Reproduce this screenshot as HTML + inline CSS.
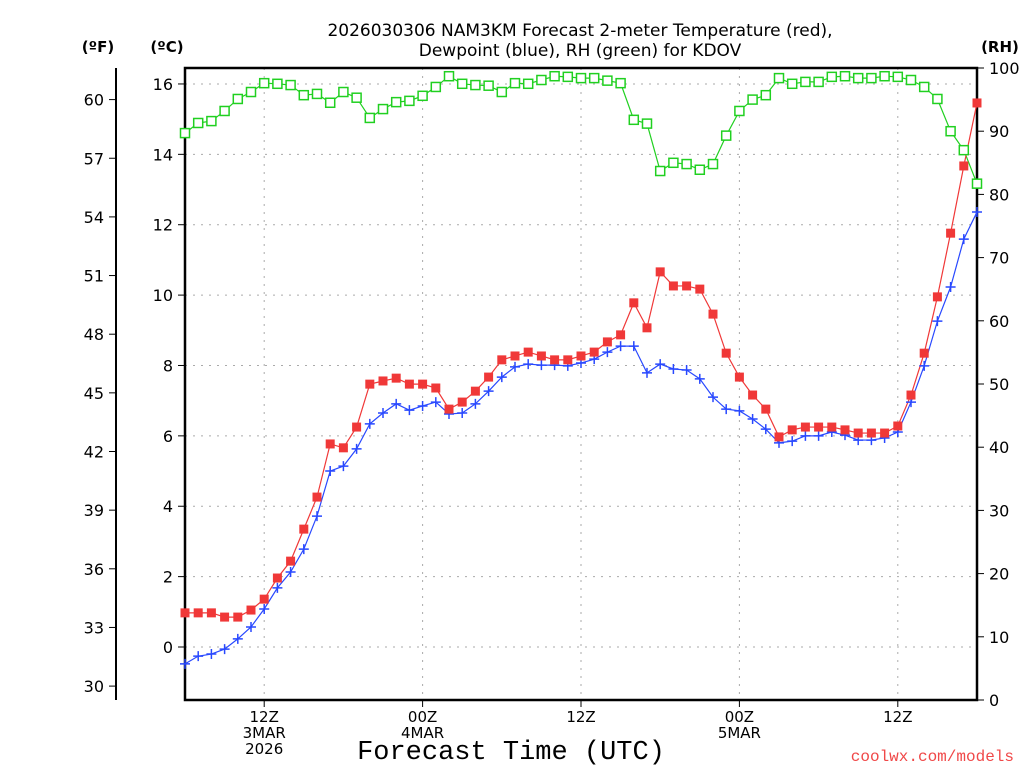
<!DOCTYPE html>
<html><head><meta charset="utf-8"><style>
html,body{margin:0;padding:0;background:#fff}
svg{display:block;font-family:"DejaVu Sans","Liberation Sans",sans-serif}
</style></head><body>
<svg id="chart" width="1024" height="768" viewBox="0 0 1024 768" xmlns="http://www.w3.org/2000/svg">
<text x="580" y="36" text-anchor="middle" font-size="17" fill="#000">2026030306 NAM3KM Forecast 2-meter Temperature (red),</text>
<text x="580" y="56" text-anchor="middle" font-size="17" fill="#000">Dewpoint (blue), RH (green) for KDOV</text>
<text x="98" y="52" text-anchor="middle" font-size="15" font-weight="bold" fill="#000">(ºF)</text>
<text x="167" y="52" text-anchor="middle" font-size="15" font-weight="bold" fill="#000">(ºC)</text>
<text x="1000" y="52" text-anchor="middle" font-size="15" font-weight="bold" fill="#000">(RH)</text>
<text x="511" y="759" text-anchor="middle" font-size="27" fill="#000" font-family="Liberation Mono, monospace">Forecast Time (UTC)</text>
<text x="1014" y="761" text-anchor="end" font-size="16" fill="#f04848" font-family="Liberation Mono, monospace">coolwx.com/models</text>
<g id="grid"></g><g id="axes"></g><g id="series"></g>
</svg>
<script>
const hours=[];for(let i=0;i<=60;i++)hours.push(i); // hours after 06Z 3 Mar
const tempC=[0.97,0.97,0.97,0.85,0.85,1.05,1.36,1.96,2.44,3.35,4.26,5.77,5.66,6.25,7.47,7.56,7.64,7.47,7.47,7.36,6.76,6.96,7.27,7.67,8.16,8.27,8.38,8.27,8.16,8.16,8.27,8.38,8.67,8.87,9.78,9.07,10.66,10.26,10.26,10.17,9.46,8.35,7.67,7.16,6.76,5.97,6.17,6.25,6.25,6.25,6.17,6.08,6.08,6.08,6.28,7.16,8.35,9.95,11.76,13.67,15.46];
const dewC=[-0.48,-0.26,-0.20,-0.06,0.23,0.57,1.08,1.68,2.13,2.78,3.72,5.00,5.14,5.63,6.34,6.65,6.91,6.73,6.85,6.96,6.62,6.65,6.91,7.27,7.67,7.96,8.04,8.01,8.01,7.99,8.07,8.18,8.38,8.55,8.55,7.79,8.04,7.90,7.87,7.62,7.10,6.76,6.71,6.48,6.19,5.80,5.85,6.00,6.00,6.11,6.02,5.88,5.88,5.94,6.11,6.96,7.99,9.26,10.23,11.59,12.36];
const rh=[89.7,91.3,91.6,93.2,95.1,96.2,97.6,97.5,97.3,95.7,95.9,94.5,96.2,95.3,92.1,93.5,94.6,94.8,95.6,97.0,98.7,97.5,97.3,97.2,96.2,97.6,97.5,98.1,98.7,98.6,98.4,98.4,98.0,97.6,91.8,91.2,83.7,85.0,84.8,83.9,84.8,89.3,93.2,95.0,95.7,98.4,97.5,97.8,97.8,98.6,98.7,98.4,98.4,98.7,98.6,98.1,97.0,95.1,90.0,87.0,81.7];
const cTicks=[0,2,4,6,8,10,12,14,16];
const fTicks=[30,33,36,39,42,45,48,51,54,57,60];
const rhTicks=[0,10,20,30,40,50,60,70,80,90,100];
const xTickHours=[6,18,30,42,54];
const xTickLabels=[["12Z","3MAR","2026"],["00Z","4MAR"],["12Z"],["00Z","5MAR"],["12Z"]];

const L=185,R=977,T=68,B=700;
const x=h=>L+(R-L)*h/60;
const yC=c=>647-c*35.19;
const yF=f=>yC((f-32)*5/9);
const yRH=r=>B-(B-T)*r/100;
const NS='http://www.w3.org/2000/svg';
function mk(tag,attrs,parent,txt){const e=document.createElementNS(NS,tag);for(const k in attrs)e.setAttribute(k,attrs[k]);if(txt!==undefined)e.textContent=txt;parent.appendChild(e);return e;}
const grid=document.getElementById('grid'),axes=document.getElementById('axes'),ser=document.getElementById('series');

cTicks.forEach(c=>{const y=yC(c);
 let g=mk('line',{x1:L,x2:R,y1:y,y2:y,stroke:'#aaa','stroke-dasharray':'2,6'},grid);
 
 
 let t=mk('line',{x1:L-7,x2:L,y1:y,y2:y,stroke:'#000'},axes);
 
 
 let l=mk('text',{x:L-12,y:y+6,'text-anchor':'end','font-size':'16',fill:'#000'},axes,String(c));
 
 
});
fTicks.forEach(f=>{const y=yF(f);
 let t=mk('line',{x1:109,x2:116,y1:y,y2:y,stroke:'#000'},axes);
 
 
 let l=mk('text',{x:104,y:y+6,'text-anchor':'end','font-size':'16',fill:'#000'},axes,String(f));
 
 
});
rhTicks.forEach(r=>{const y=yRH(r);
 let t=mk('line',{x1:R,x2:R+7,y1:y,y2:y,stroke:'#000'},axes);
 
 
 let l=mk('text',{x:R+12,y:y+6,'text-anchor':'start','font-size':'16',fill:'#000'},axes,String(r));
 
 
});
xTickHours.forEach((h,i)=>{const xx=x(h);
 let g=mk('line',{x1:xx,x2:xx,y1:T,y2:B,stroke:'#aaa','stroke-dasharray':'2,6'},grid);
 
 
 let t=mk('line',{x1:xx,x2:xx,y1:B,y2:B+7,stroke:'#000'},axes);
 
 
 xTickLabels[i].forEach((s,j)=>{
  let l=mk('text',{x:xx,y:B+22+j*16,'text-anchor':'middle','font-size':'15',fill:'#000'},axes,s);
  
  
 });
});
let fr=mk('rect',{x:L,y:T,width:R-L,height:B-T,fill:'none',stroke:'#000','stroke-width':2.5},axes);


let fl=mk('line',{x1:116,x2:116,y1:T,y2:B,stroke:'#000','stroke-width':2},axes);



function line(vals,yf,color,name){
 const p=mk('polyline',{points:vals.map((v,i)=>x(hours[i])+','+yf(v)).join(' '),fill:'none',stroke:color,'stroke-width':1.2},ser);
 
 
}
line(rh,yRH,'#20d020','rh-line');
line(dewC,yC,'#2848ff','dewpoint-line');
line(tempC,yC,'#f03838','temperature-line');
rh.forEach((v,i)=>{const m=mk('rect',{x:x(hours[i])-4.5,y:yRH(v)-4.5,width:9,height:9,fill:'#fff',stroke:'#20d020','stroke-width':1.5},ser);
 
 });
dewC.forEach((v,i)=>{const cx=x(hours[i]),cy=yC(v);const m=mk('path',{d:`M${cx-5},${cy}H${cx+5}M${cx},${cy-5}V${cy+5}`,stroke:'#2848ff','stroke-width':1.5},ser);
 
 });
tempC.forEach((v,i)=>{const m=mk('rect',{x:x(hours[i])-4.5,y:yC(v)-4.5,width:9,height:9,fill:'#f03838'},ser);
 
 });
</script>
</body></html>
